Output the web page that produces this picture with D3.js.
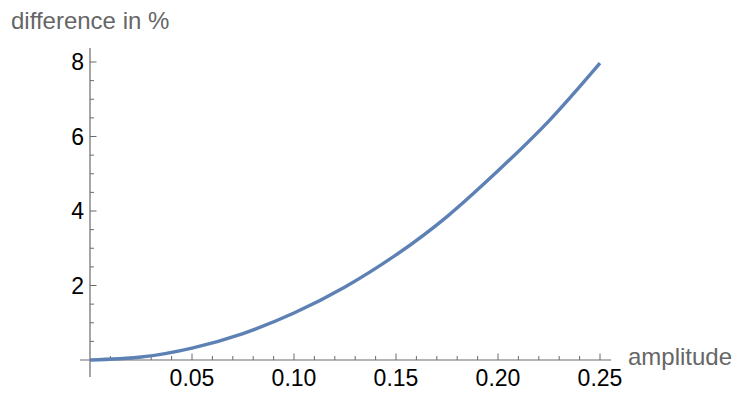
<!DOCTYPE html>
<html>
<head>
<meta charset="utf-8">
<script src="https://cdn.jsdelivr.net/npm/d3@7"></script>
<style>
  body { margin: 0; background: #fff; }
  text { font-family: "Liberation Sans", Arial, sans-serif; }
</style>
</head>
<body>
<svg id="chart" width="752" height="400"></svg>
<script>
// values
var amplitude = [0, 0.025, 0.05, 0.075, 0.1, 0.125, 0.15, 0.175, 0.2, 0.225, 0.25];
var difference = [0, 0.08, 0.32, 0.71, 1.26, 1.96, 2.82, 3.85, 5.08, 6.42, 7.97];
var xTicks = [0.05, 0.10, 0.15, 0.20, 0.25];
var yTicks = [2, 4, 6, 8];

var svg = d3.select("#chart");
var axisColor = "#6b6b6b";
var fontSize = 23;

var x = d3.scaleLinear().domain([0, 0.25]).range([90, 600]);
var y = d3.scaleLinear().domain([0, 8]).range([360, 62]);

// axes lines
svg.append("line")
    .attr("x1", 80).attr("x2", 611)
    .attr("y1", y(0)).attr("y2", y(0))
    .attr("stroke", axisColor).attr("stroke-width", 1.2);
svg.append("line")
    .attr("x1", x(0)).attr("x2", x(0))
    .attr("y1", 48).attr("y2", 377)
    .attr("stroke", axisColor).attr("stroke-width", 1.2);

// x ticks, minor every 0.01
var xMinor = d3.range(1, 26).map(function(i) { return i / 100; });
svg.selectAll(".xtick").data(xMinor).enter().append("line")
    .attr("x1", function(d) { return x(d); })
    .attr("x2", function(d) { return x(d); })
    .attr("y1", y(0))
    .attr("y2", function(d, i) { return (i + 1) % 5 == 0 ? y(0) - 6.5 : y(0) - 4; })
    .attr("stroke", axisColor).attr("stroke-width", 1);

svg.selectAll(".xlab").data(xTicks).enter().append("text")
    .attr("x", function(d) { return x(d); })
    .attr("y", 386)
    .attr("text-anchor", "middle")
    .attr("font-size", fontSize)
    .attr("fill", "#000")
    .text(function(d) { return d3.format(".2f")(d); });

// y ticks, minor every 0.5
var yMinor = d3.range(1, 17).map(function(i) { return i / 2; });
svg.selectAll(".ytick").data(yMinor).enter().append("line")
    .attr("x1", x(0))
    .attr("x2", function(d, i) { return (i + 1) % 4 == 0 ? x(0) + 6.5 : x(0) + 4; })
    .attr("y1", function(d) { return y(d); })
    .attr("y2", function(d) { return y(d); })
    .attr("stroke", axisColor).attr("stroke-width", 1);

svg.selectAll(".ylab").data(yTicks).enter().append("text")
    .attr("x", 84)
    .attr("y", function(d) { return y(d) + 8; })
    .attr("text-anchor", "end")
    .attr("font-size", fontSize)
    .attr("fill", "#000")
    .text(function(d) { return d; });

// axis labels
svg.append("text")
    .attr("x", 11).attr("y", 29)
    .attr("font-size", 24)
    .attr("fill", "#666")
    .text("difference in %");
svg.append("text")
    .attr("x", 628).attr("y", 365)
    .attr("font-size", 24)
    .attr("fill", "#666")
    .text("amplitude");

// the curve
var line = d3.line()
    .x(function(d, i) { return x(amplitude[i]); })
    .y(function(d) { return y(d); })
    .curve(d3.curveNatural);

svg.append("path")
    .datum(difference)
    .attr("d", line)
    .attr("fill", "none")
    .attr("stroke", "#5e81b5")
    .attr("stroke-width", 3.4);
</script>
</body>
</html>
